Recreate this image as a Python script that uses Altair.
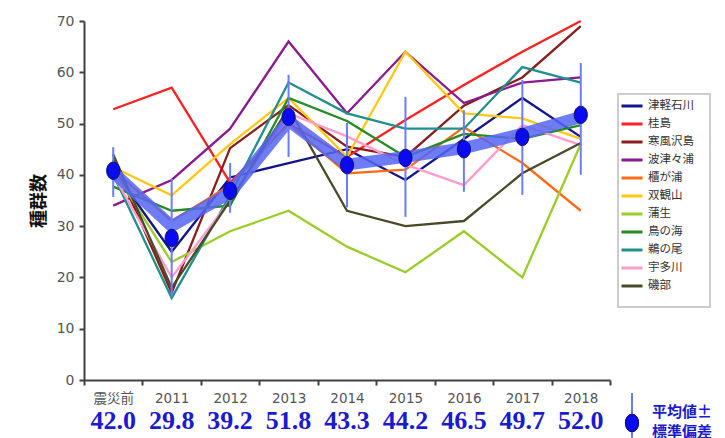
import altair as alt
import pandas as pd

years = ["震災前", "2011", "2012", "2013", "2014", "2015", "2016", "2017", "2018"]
sites = ["津軽石川", "桂島", "寒風沢島", "波津々浦", "櫃が浦", "双観山", "蒲生", "鳥の海", "鵜の尾", "宇多川", "磯部"]
colors = ["#14148c", "#ff2020", "#8b1c1c", "#8a1a8e", "#ff6a14", "#ffc814", "#9acd28", "#228b22", "#20908c", "#ff9ccc", "#4a4a28"]

v_tsugaru = [41.0, 25.0, 39.5, 42.3, 45.0, 39.0, 47.0, 55.0, 47.4]
v_katsura = [52.8, 57.0, 38.5, 50.0, 43.5, 50.7, 57.5, 64.0, 70.0]
v_samuk = [43.0, 17.0, 45.2, 53.6, 45.5, 43.5, 53.5, 59.0, 69.0]
v_hatsu = [34.0, 39.0, 49.0, 66.0, 52.0, 64.0, 54.0, 58.0, 59.0]
v_hitsu = [41.0, 31.0, 38.0, 50.0, 40.3, 41.0, 49.3, 42.3, 33.0]
v_sokan = [41.5, 36.0, 46.0, 55.0, 43.5, 64.0, 52.0, 51.0, 47.0]
v_gamo = [41.0, 23.0, 29.0, 33.0, 26.0, 21.0, 29.0, 20.0, 46.0]
v_torinoumi = [37.7, 33.0, 34.0, 55.0, 50.5, 43.5, 48.0, 47.0, 49.7]
v_unoo = [40.0, 16.0, 36.0, 58.0, 52.0, 49.0, 49.0, 61.0, 58.0]
v_uda = [40.0, 20.0, 35.0, 52.0, 47.5, 42.0, 38.0, 49.7, 45.8]
v_isobe = [44.0, 18.0, 35.0, 53.0, 33.0, 30.0, 31.0, 40.3, 46.2]
series = [v_tsugaru, v_katsura, v_samuk, v_hatsu, v_hitsu, v_sokan,
          v_gamo, v_torinoumi, v_unoo, v_uda, v_isobe]

mean_dot = [40.8, 27.7, 36.9, 51.3, 41.9, 43.3, 45.0, 47.4, 51.7]
err_lo = [35.7, 16.2, 32.6, 43.5, 33.7, 31.8, 36.7, 36.1, 40.0]
err_hi = [45.4, 39.2, 42.3, 59.5, 50.1, 55.2, 52.6, 58.5, 61.8]
band = [40.5, 30.0, 36.5, 50.5, 42.0, 43.5, 45.2, 48.0, 51.3]
mean_labels = ["42.0", "29.8", "39.2", "51.8", "43.3", "44.2", "46.5", "49.7", "52.0"]
note_lines = ["平均値±", "標準偏差"]

rows = []
for s, vals in zip(sites, series):
    for y, v in zip(years, vals):
        rows.append({"site": s, "year": y, "value": v})
df = pd.DataFrame(rows)
dm = pd.DataFrame({"year": years, "mean": mean_dot, "lo": err_lo, "hi": err_hi,
                   "band": band, "lab": mean_labels})

tick_font = "DejaVu Sans, Noto Sans CJK JP"
ellipse = "M-0.76,0A0.76,1,0,1,0,0.76,0A0.76,1,0,1,0,-0.76,0Z"
xscale = alt.Scale(type="band", domain=years, paddingInner=0, paddingOuter=0)
yscale = alt.Scale(domain=[0, 70], nice=False)

X = alt.X("year:N", scale=xscale, bandPosition=0.5,
          axis=alt.Axis(title=None, tickBand="extent", labelAngle=0, labelFont=tick_font,
                        labelFontSize=13.5, labelColor="#555555", labelPadding=6,
                        domainColor="#404040", domainWidth=2, tickColor="#404040",
                        tickWidth=2, tickSize=5))

lines = alt.Chart(df).mark_line(strokeWidth=2.3).encode(
    x=X,
    y=alt.Y("value:Q", scale=yscale,
            axis=alt.Axis(values=list(range(0, 71, 10)), title="種群数", grid=False,
                          labelFont=tick_font, labelFontSize=14, labelColor="#555555",
                          labelPadding=5, domainColor="#404040", domainWidth=2,
                          tickColor="#404040", tickWidth=2, tickSize=5,
                          titleFont="Noto Sans CJK JP", titleFontSize=18,
                          titleFontWeight="bold", titleColor="#111111", titlePadding=8)),
    color=alt.Color("site:N", sort=sites, scale=alt.Scale(domain=sites, range=colors),
                    legend=alt.Legend(title=None, orient="none", legendX=536, legendY=73,
                                      padding=0,
                                      symbolType="stroke", symbolStrokeWidth=3,
                                      symbolSize=441, labelFont="Noto Sans CJK JP",
                                      labelFontSize=11.5, labelColor="#333333",
                                      labelOffset=4, rowPadding=0)),
    detail="site:N",
)

legend_box = alt.Chart(dm).mark_rect(fill="white", fillOpacity=0, stroke="#cccccc",
                                     strokeWidth=1.5).encode(
    x=alt.value(534), x2=alt.value(626), y=alt.value(73), y2=alt.value(286))

band_line = alt.Chart(dm).mark_line(strokeWidth=12, color="#5566f4", opacity=0.85).encode(
    x=alt.X("year:N", scale=xscale, bandPosition=0.5), y=alt.Y("band:Q", scale=yscale))

err = alt.Chart(dm).mark_rule(strokeWidth=2, color="#6d7bff").encode(
    x=alt.X("year:N", scale=xscale, bandPosition=0.5),
    y=alt.Y("lo:Q", scale=yscale), y2="hi:Q")

dots = alt.Chart(dm).mark_point(filled=True, size=300, shape=ellipse, color="#0a0af0",
                                stroke="#10106a", strokeWidth=1, opacity=1).encode(
    x=alt.X("year:N", scale=xscale, bandPosition=0.5),
    y=alt.Y("mean:Q", scale=yscale))

nums = alt.Chart(dm).mark_text(font="Liberation Serif", fontWeight="bold", fontSize=26,
                               color="#1a1ad0", baseline="middle").encode(
    x=alt.X("year:N", scale=xscale, bandPosition=0.5),
    y=alt.value(400), text="lab:N")

ann = pd.DataFrame({"t": note_lines, "yy": [391, 411]})
ann_text = alt.Chart(ann).mark_text(font="Noto Sans CJK JP", fontWeight="bold", fontSize=15,
                                    color="#1a1ad0", align="left", baseline="middle").encode(
    x=alt.value(568), y=alt.Y("yy:Q", scale=None), text="t:N")
ann_rule = alt.Chart(ann).mark_rule(strokeWidth=2, color="#6d7bff").encode(
    x=alt.value(548), y=alt.value(372), y2=alt.value(425))
ann_dot = alt.Chart(ann).mark_point(filled=True, size=300, shape=ellipse, color="#0a0af0",
                                    stroke="#10106a", strokeWidth=1, opacity=1).encode(
    x=alt.value(548), y=alt.value(402))

chart = alt.layer(lines, legend_box, band_line, err, dots, nums, ann_text, ann_rule, ann_dot).properties(
    width=526, height=359,
    autosize=alt.AutoSizeParams(type="none"),
    padding={"left": 76, "top": 13, "right": 107, "bottom": 58},
).configure_view(stroke=None)

chart.save("out.html", embed_options={"renderer": "svg", "actions": False})
